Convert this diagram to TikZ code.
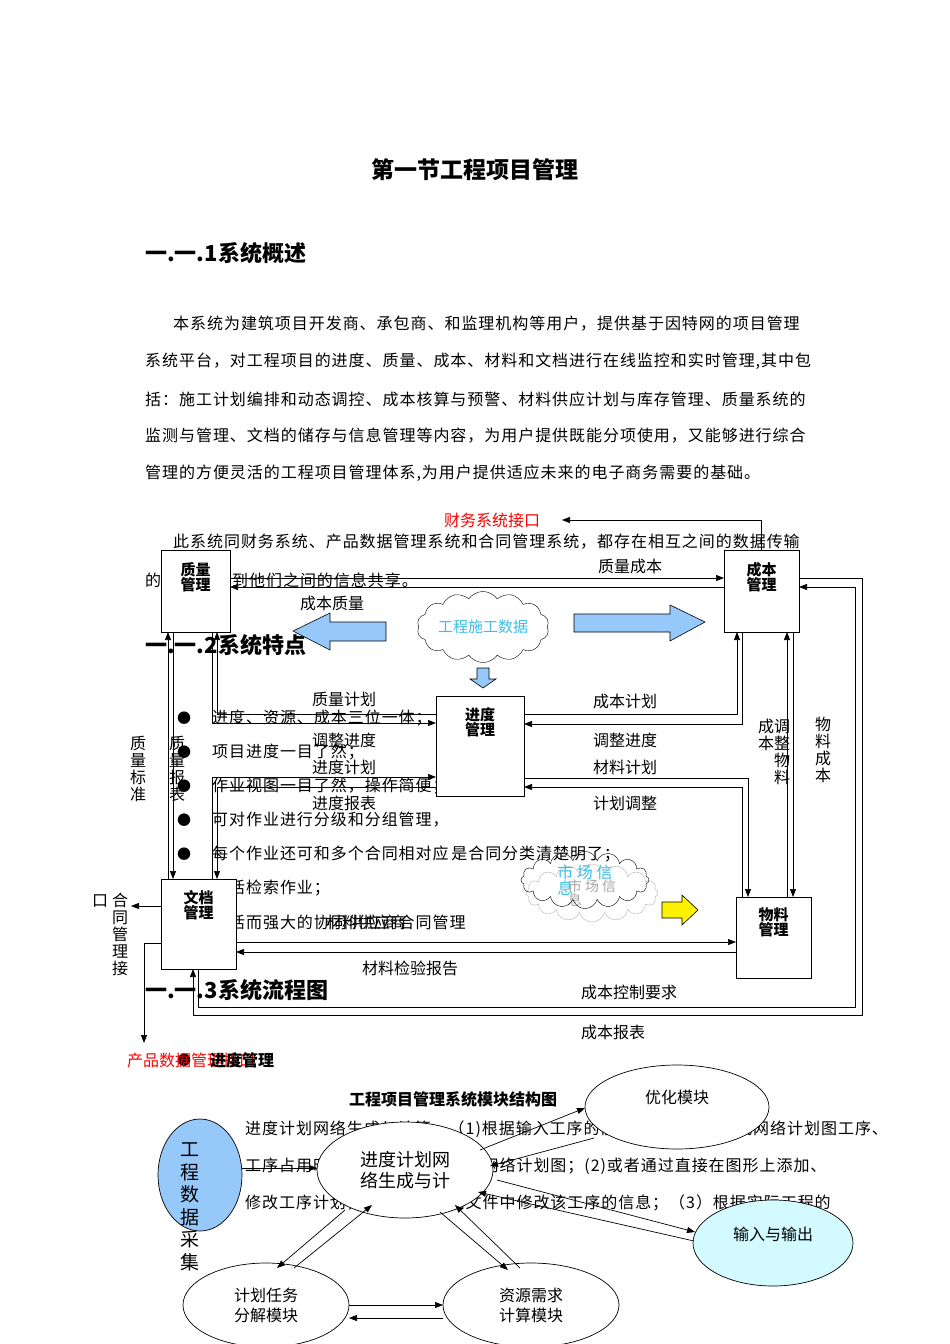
\documentclass[tikz,border=0pt]{standalone}
\usepackage{fontspec}
\setmainfont{Noto Sans CJK SC}
\newfontfamily\spc{Noto Sans CJK SC}[LetterSpace=6]
\usetikzlibrary{shapes.symbols,shapes.geometric,arrows.meta}
\definecolor{cy}{RGB}{60,190,230}
\definecolor{bluef}{RGB}{150,200,250}
\definecolor{lcy}{RGB}{210,250,255}
\newcommand{\fs}[1]{\fontsize{#1}{#1}\selectfont}
\begin{document}
\begin{tikzpicture}[x=1pt,y=-1pt,
  box/.style={draw,line width=0.8pt,fill=white,inner sep=0},
  bl/.style={font=\fs{15}\bfseries,align=center,inner sep=0},
  lab/.style={font=\fs{16},inner sep=0},
  ptxt/.style={font=\spc\fs{16},anchor=west,inner sep=0},
  hd/.style={font=\fs{22}\bfseries,anchor=west,inner sep=0},
  arr/.style={-{Triangle[length=8pt,width=6pt]},line width=0.7pt},
  ell/.style={draw,ellipse,line width=0.7pt,fill=white,font=\fontsize{18}{21}\selectfont,align=center,inner sep=0},
  vt/.style={font=\fontsize{16}{17}\selectfont,align=center,inner sep=0},
  barr/.style={draw,line width=0.6pt}]
\useasboundingbox[fill=white] (0,0) rectangle (950,1344);
% page text
\node[font=\fs{23}\bfseries,inner sep=0] (t0) at (475,170) {第一节工程项目管理};
\node[hd] (h1) at (145,253) {一.一.1系统概述};
\node[ptxt] (p1) at (173,324) {本系统为建筑项目开发商、承包商、和监理机构等用户，提供基于因特网的项目管理};
\node[ptxt] (p2) at (145,361) {系统平台，对工程项目的进度、质量、成本、材料和文档进行在线监控和实时管理,其中包};
\node[ptxt] (p3) at (145,399) {括：施工计划编排和动态调控、成本核算与预警、材料供应计划与库存管理、质量系统的};
\node[ptxt] (p4) at (145,436) {监测与管理、文档的储存与信息管理等内容，为用户提供既能分项使用，又能够进行综合};
\node[ptxt] (p5) at (145,473) {管理的方便灵活的工程项目管理体系,为用户提供适应未来的电子商务需要的基础。};
\node[ptxt] (p6) at (173,542) {此系统同财务系统、产品数据管理系统和合同管理系统，都存在相互之间的数据传输};
\node[ptxt] (p7) at (145,580) {的};
\node[ptxt] (p8) at (232,580) {到他们之间的信息共享。};
\node[hd] (h2) at (145,645) {一.一.2系统特点};
\foreach \y/\t [count=\i] in {718/进度、资源、成本三位一体；,752/项目进度一目了然；,786/作业视图一目了然，操作简便；,820/可对作业进行分级和分组管理，,854/每个作业还可和多个合同相对应\,是合同分类清楚明了；,888/灵活检索作业；,922/灵活而强大的协同供应商合同管理}{
  \node[font=\fs{14},inner sep=0] (b\i) at (184,\y) {●};
  \node[ptxt] (bt\i) at (212,\y) {\t};}
\node[hd] (h3) at (145,990) {一.一.3系统流程图};
\node[font=\fs{14},inner sep=0] (b8) at (184,1060) {●};
\node[font=\fs{16}\bfseries,inner sep=0] (h5) at (453,1099) {工程项目管理系统模块结构图};
\node[ptxt] (q1) at (245,1129) {进度计划网络生成与计算。（1)根据输入工序的前后关系，自动生成网络计划图工序、};
\node[ptxt] (q2) at (245,1166) {工序占用时间等信息，自动生成网络计划图；(2)或者通过直接在图形上添加、};
\node[ptxt] (q3) at (245,1203) {修改工序计划，第二动在数据文件中修改该工序的信息；（3）根据实际工程的};
% flow chart boxes
\node[box,minimum width=69,minimum height=82] (q) at (195.5,591) {};
\node[bl] (ql) at (195.5,577) {质量\\管理};
\node[box,minimum width=75,minimum height=82] (c) at (761.5,591) {};
\node[bl] (cl) at (761.5,577) {成本\\管理};
\node[box,minimum width=88,minimum height=100] (p) at (480,746) {};
\node[bl] (pl) at (480,722) {进度\\管理};
\node[box,minimum width=75,minimum height=90] (d) at (198.5,924) {};
\node[bl] (dl) at (198.5,905) {文档\\管理};
\node[box,minimum width=75,minimum height=81] (m) at (773.5,937.5) {};
\node[bl] (ml) at (773.5,922) {物料\\管理};
% finance interface
\node[lab,text=red] (fin) at (492,520) {财务系统接口};
\draw[arr] (c.north) -- (761.5,520) -- (562,520);
% q <-> c
\draw[arr] (230,578) -- (724,578);
\draw[arr] (724,587) -- (230,587);
\node[lab] (l1) at (630,566) {质量成本};
\node[lab] (l2) at (332,603) {成本质量};
% big arrows and cloud
\draw[barr,fill=bluef] (386,622) -- (330,622) -- (330,613) -- (293,631) -- (330,650) -- (330,641) -- (386,641) -- cycle;
\draw[barr,fill=bluef] (574,614) -- (670,614) -- (670,605) -- (705,622) -- (670,641) -- (670,632) -- (574,632) -- cycle;
\node[cloud,draw,cloud puffs=14,cloud puff arc=110,aspect=2.2,minimum width=132,minimum height=62,fill=white,font=\fs{15},text=cy,inner sep=0] (cl1) at (483,627) {工程施工数据};
\draw[barr,fill=bluef] (477,668) -- (489,668) -- (489,679) -- (496,679) -- (483,688) -- (470,679) -- (477,679) -- cycle;
% q <-> d, q <-> p
\draw[arr] (168,879) -- (168,632);
\draw[arr] (173,632) -- (173,879);
\node[vt] (l3) at (138,769) {质\\量\\标\\准};
\node[vt] (l4) at (177,769) {质\\量\\报\\表};
\draw[arr] (212,632) -- (212,723) -- (436,723);
\draw[arr] (436,714) -- (217,714) -- (217,632);
\node[lab] (l5) at (344,699) {质量计划};
\node[lab] (l6) at (344,740) {调整进度};
\draw[arr] (212,879) -- (212,777) -- (436,777);
\draw[arr] (436,787) -- (217,787) -- (217,879);
\node[lab] (l7) at (344,767) {进度计划};
\node[lab] (l8) at (344,803) {进度报表};
% p <-> c
\draw[arr] (524,714) -- (737,714) -- (737,632);
\draw[arr] (742,632) -- (742,724) -- (524,724);
\node[lab] (l9) at (625,701) {成本计划};
\node[lab] (l10) at (625,740) {调整进度};
% p <-> m
\draw[arr] (524,778) -- (748,778) -- (748,897);
\draw[arr] (742,897) -- (742,787) -- (524,787);
\node[lab] (l11) at (625,767) {材料计划};
\node[lab] (l12) at (625,803) {计划调整};
% c <-> m
\draw[arr] (787,897) -- (787,632);
\draw[arr] (793,632) -- (793,897);
\node[vt] (l13) at (766,735) {成\\本};
\node[vt] (l14) at (782,752) {调\\整\\物\\料};
\node[vt] (l15) at (823,750) {物\\料\\成\\本};
% outer loops c <-> d
\draw[arr] (799,578) -- (862,578) -- (862,1015) -- (193,1015) -- (193,969);
\draw[arr] (198,969) -- (198,1007) -- (855,1007) -- (855,587) -- (799,587);
\node[lab] (l16) at (629,992) {成本控制要求};
\node[lab] (l17) at (613,1032) {成本报表};
% d <-> m
\draw[arr] (236,942) -- (736,942);
\draw[arr] (736,952) -- (236,952);
\node[lab] (l18) at (410,968) {材料检验报告};
\node[lab] (l19) at (366,922) {材料供应商};
% market cloud
\node[cloud,draw=gray!60,cloud puffs=16,aspect=2.2,minimum width=132,minimum height=58,inner sep=0,font=\fs{14},text=gray!70,align=left] (cl3) at (592,893) {市 场 信\\息};
\node[cloud,draw,cloud puffs=16,aspect=2.2,minimum width=128,minimum height=56,inner sep=0,font=\fs{16},text=cy,align=left] (cl2) at (585,880) {市 场 信\\息\phantom{场 信}};
\draw[barr,fill=yellow] (662,902) -- (682,902) -- (682,895) -- (698,910) -- (682,925) -- (682,918) -- (662,918) -- cycle;
% d left interfaces
\draw[arr] (161,906) -- (131,906);
\node[lab] (l20) at (100,901) {口};
\node[vt] (l21) at (120,934) {合\\同\\管\\理\\接};
\draw[arr] (161,943) -- (144,943) -- (144,1043);
\node[lab,text=red,anchor=west] (l22) at (127,1060) {产品数据管理接口};
\node[font=\fs{16}\bfseries,anchor=west,inner sep=0] (h4) at (210,1060) {进度管理};
% module diagram
\node[ell,fill=bluef,minimum width=84,minimum height=112] (e1) at (200,1175) {};
\node[font=\fontsize{19}{22.5}\selectfont,align=center,inner sep=0] (e1t) at (190,1207) {工\\程\\数\\据\\采\\集};
\node[ell,minimum width=176,minimum height=96] (e2) at (405,1170) {进度计划网\\络生成与计};
\node[ell,minimum width=184,minimum height=84] (e3) at (677,1107) {};
\node[font=\fs{16},inner sep=0] (e3t) at (677,1097) {优化模块};
\node[ell,fill=lcy,minimum width=160,minimum height=86] (e4) at (773,1243) {};
\node[font=\fs{16},inner sep=0] (e4t) at (773,1234) {输入与输出};
\node[ell,minimum width=166,minimum height=84,font=\fontsize{16}{20}\selectfont] (e5) at (266,1305) {计划任务\\分解模块};
\node[ell,minimum width=176,minimum height=84,font=\fontsize{16}{20}\selectfont] (e6) at (531,1305) {资源需求\\计算模块};
\draw[arr] (242,1168) -- (317,1168);
\draw[arr] (480,1150) -- (585,1108);
\draw[arr] (594,1138) -- (490,1166);
\draw[arr] (497,1180) -- (695,1232);
\draw[arr] (694,1241) -- (478,1192);
\draw[arr] (345,1210) -- (277,1268);
\draw[arr] (294,1268) -- (372,1205);
\draw[arr] (440,1212) -- (508,1270);
\draw[arr] (520,1268) -- (455,1205);
\draw[arr] (349,1305) -- (443,1305);
\draw[arr] (443,1318) -- (349,1318);
\end{tikzpicture}
\end{document}
